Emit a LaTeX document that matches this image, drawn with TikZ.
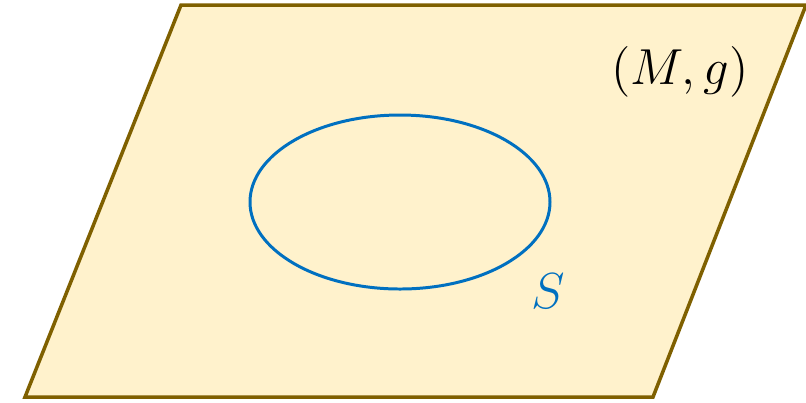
\documentclass[tikz,border=0pt]{standalone}
\usepackage{amsmath}
\usepackage{xcolor}
\usepackage{tikz}
\usetikzlibrary{positioning}
\definecolor{sheet}{HTML}{FFF2CC}
\definecolor{rim}{HTML}{7F6000}
\definecolor{curveblue}{HTML}{0070C0}

\begin{document}
\begin{tikzpicture}[x=0.01cm,y=-0.01cm,font=\Large]
\tikzset{manifold/.style={draw=rim,fill=sheet,line width=1pt,line join=miter}, surf/.style={draw=curveblue,line width=0.85pt}}
\useasboundingbox (0,0) rectangle (806,402);
\draw[manifold] (181,5)--(806,5)--(653,397)--(25,397)--cycle;
\draw[surf] (400,202) ellipse [x radius=150, y radius=87];
\node (Mg) at (680,72) {$(M,g)$};
\node[text=curveblue] (S) at (548,291) {$S$};
\end{tikzpicture}
\end{document}
